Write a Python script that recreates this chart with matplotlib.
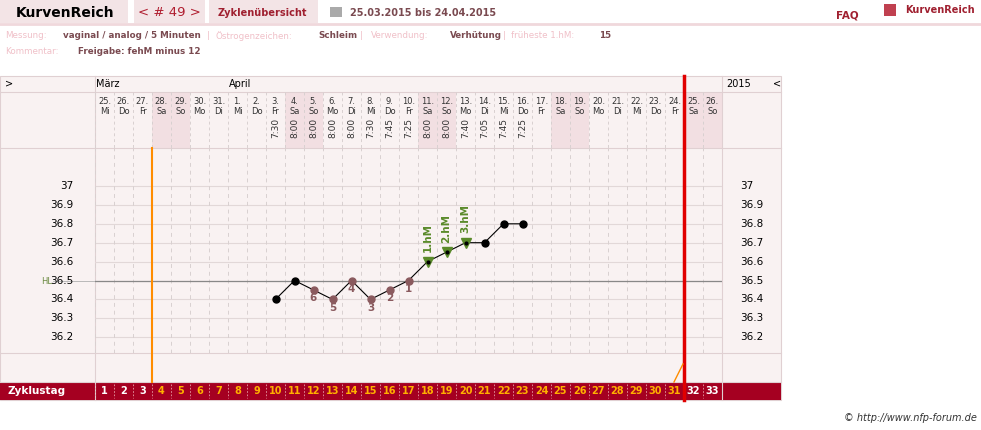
import matplotlib
matplotlib.use("Agg")
import matplotlib.pyplot as plt
from matplotlib.patches import Rectangle

days = [25,26,27,28,29,30,31] + list(range(1,27))
wdays_cycle = ["Mi","Do","Fr","Sa","So","Mo","Di"]
wdays = [wdays_cycle[i % 7] for i in range(33)]
temp_days = list(range(10,24))
temps = [36.4,36.5,36.45,36.4,36.5,36.4,36.45,36.5,36.6,36.65,36.7,36.7,36.8,36.8]
times = ["7:30","8:00","8:00","8:00","8:00","7:30","7:45","7:25","8:00","8:00","7:40","7:05","7:45","7:25"]
low_days = [12,13,14,15,16,17]; low_labels = ["6","5","4","3","2","1"]
hm_days = [18,19,20]; hm_labels = ["1.hM","2.hM","3.hM"]
yticks = [37.0,36.9,36.8,36.7,36.6,36.5,36.4,36.3,36.2]
HL = 36.5

W, H = 981, 430
fig = plt.figure(figsize=(9.81,4.30), dpi=100)
ov = fig.add_axes([0,0,1,1]); ov.set_xlim(0,W); ov.set_ylim(H,0); ov.axis("off")
DR = "#a50021"; PK = "#f3e4e6"; BG = "#f9f2f2"; LP = "#f0c0c8"; TX = "#7a4a50"

# header
for x0,x1 in [(0,128),(134,205),(209,318)]:
    ov.add_patch(Rectangle((x0,0),x1-x0,23,color=PK,lw=0))
ov.plot([0,W],[24,24],color="#f0d8dc",lw=2)
ov.text(16,13,"KurvenReich",fontsize=10,va="center",color="black",weight="bold")
ov.text(169,13,"< # 49 >",fontsize=9.5,va="center",ha="center",color="#b01e30")
ov.text(218,13,"Zyklenübersicht",fontsize=7,va="center",color="#a02030",weight="bold")
ov.add_patch(Rectangle((330,7),12,10,color="#aaaaaa",lw=0))
ov.text(350,13,"25.03.2015 bis 24.04.2015",fontsize=7,va="center",color=TX,weight="bold")
ov.text(836,15,"FAQ",fontsize=7.5,va="center",color="#a02030",weight="bold")
ov.text(905,10,"KurvenReich",fontsize=7,va="center",color="#a02030",weight="bold")
ov.add_patch(Rectangle((884,4),12,12,color="#c04050",lw=0))
row = [(5,"Messung:",LP),(63,"vaginal / analog / 5 Minuten",TX),(207,"|",LP),(215,"Östrogenzeichen:",LP),
       (318,"Schleim",TX),(360,"|",LP),(371,"Verwendung:",LP),(450,"Verhütung",TX),(503,"|",LP),
       (511,"früheste 1.hM:",LP),(599,"15",TX)]
for x,t,c in row:
    ov.text(x,36,t,fontsize=6.3,va="center",color=c,weight="bold" if c==TX else "normal")
ov.text(5,51,"Kommentar:",fontsize=6.3,va="center",color=LP)
ov.text(78,51,"Freigabe: fehM minus 12",fontsize=6.3,va="center",color=TX,weight="bold")

# frame
X0, CW = 95, 19
ov.add_patch(Rectangle((0,76),781,324,facecolor=BG,edgecolor="#e0d0d2",lw=0.8))
for y in [92,148,353,382]:
    ov.plot([0,781],[y,y],color="#e0d0d2",lw=0.8)
ov.plot([95,95],[76,400],color="#e0d0d2",lw=0.8)
ov.plot([722,722],[76,400],color="#e0d0d2",lw=0.8)
for i in range(33):
    xc = X0+CW*(i+0.5)
    if wdays[i] in ("Sa","So"):
        ov.add_patch(Rectangle((X0+CW*i,92),CW,56,color="#f2dfe2",lw=0))
    ov.text(xc,101,f"{days[i]}.",fontsize=6,ha="center",va="center",color="#333")
    ov.text(xc,111,wdays[i],fontsize=6,ha="center",va="center",color="#333")
    ov.plot([X0+CW*i]*2,[92,148],color="#d8d0d0",lw=0.7,ls=(0,(3,3)))
for d,t in zip(temp_days,times):
    ov.text(X0+CW*(d-0.5),128,t,fontsize=6.5,ha="center",va="center",rotation=90,color="#333")
ov.text(5,84,">",fontsize=7,va="center")
ov.text(96,84,"März",fontsize=7,va="center")
ov.text(229,84,"April",fontsize=7,va="center")
ov.text(726,84,"2015",fontsize=7,va="center")
ov.text(773,84,"<",fontsize=7,va="center")

# footer band
ov.add_patch(Rectangle((0,382),781,18,color=DR,lw=0))
ov.text(8,391,"Zyklustag",fontsize=7.5,color="white",weight="bold",va="center")
for i in range(33):
    c = "white" if (i < 3 or i >= 31) else "#ffb000"
    ov.text(X0+CW*(i+0.5),391,str(i+1),fontsize=7,color=c,weight="bold",ha="center",va="center")
    ov.plot([X0+CW*i]*2,[384,398],color="#e8a0a8",lw=0.6,ls=(0,(2,2)))
ov.text(977,418,"© http://www.nfp-forum.de",fontsize=7,ha="right",va="center",style="italic",color="#333")

# temperature axes
ax = fig.add_axes([95/W, 1-353/H, (722-95)/W, (353-148)/H])
def ty(y): return 37 - (y-186)/189.0
ax.set_xlim(0,33); ax.set_ylim(ty(353), ty(148)); ax.axis("off")
for t in yticks:
    ax.axhline(t,color="#e2d8d8",lw=0.8,zorder=1)
    ov.text(73,186+(37-t)*189,f"{t:g}",fontsize=7.5,ha="right",va="center")
    ov.text(740,186+(37-t)*189,f"{t:g}",fontsize=7.5,ha="left",va="center")
ax.axhline(HL,color="#888888",lw=0.9,zorder=2)
ov.text(52,281,"HL",fontsize=6,ha="right",va="center",color="#6a8a40")
ov.plot([53,95],[281,281],color="#b0b0b0",lw=0.6)
for i in range(34):
    ax.axvline(i,color="#d8d0d0",lw=0.7,ls=(0,(4,4)),zorder=1)
xs = [d-0.5 for d in temp_days]
ax.plot(xs,temps,color="black",lw=0.8,zorder=3)
for d,t in zip(temp_days,temps):
    if d in low_days:
        ax.plot(d-0.5,t,"o",color="#8a5a5e",ms=5,zorder=4)
        ax.text(d-0.5,t-0.045,low_labels[low_days.index(d)],ha="center",va="center",fontsize=7.5,color="#8a5a5e",weight="bold")
    elif d in hm_days:
        ax.plot(d-0.5,t,"v",color="#5a8a2a",ms=7,zorder=4)
        ax.plot(d-0.5,t,"o",color="black",ms=2,zorder=5)
        ax.text(d-0.5,t+0.05,hm_labels[hm_days.index(d)],ha="center",va="bottom",rotation=90,fontsize=7.5,color="#5a8a2a",weight="bold")
    else:
        ax.plot(d-0.5,t,"o",color="black",ms=5,zorder=4)

# vertical markers (on top of everything)
ax.plot([152,152],[148,382],color="#ff8c00",lw=1.5,transform=ov.transData,clip_on=False,zorder=10)
ax.plot([684,684],[76,400],color="#e00000",lw=2.5,transform=ov.transData,clip_on=False,zorder=10)
ax.plot([674,683],[382,364],color="#ff8c00",lw=1,transform=ov.transData,clip_on=False,zorder=10)

fig.savefig("out.png",dpi=100)
